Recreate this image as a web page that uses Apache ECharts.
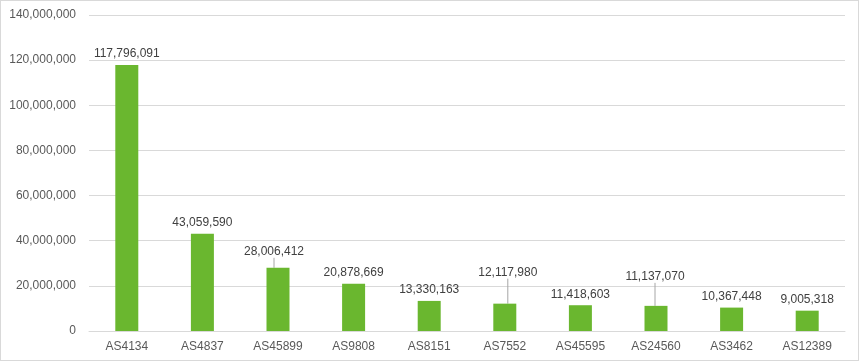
<!DOCTYPE html>
<html><head><meta charset="utf-8">
<script src="https://cdn.jsdelivr.net/npm/echarts@6/dist/echarts.min.js"></script>
<style>
html,body{margin:0;padding:0;background:#fff;}
#c{width:859px;height:361px;box-sizing:border-box;border:1px solid #d9d9d9;}
</style></head>
<body><div id="c"></div>
<script>
const categories = ['AS4134','AS4837','AS45899','AS9808','AS8151','AS7552','AS45595','AS24560','AS3462','AS12389'];
const values = [117796091,43059590,28006412,20878669,13330163,12117980,11418603,11137070,10367448,9005318];
const yTicks = {min:0, max:140000000, interval:20000000};
const moved = {2:{dx:-4,dy:-5},5:{dx:3,dy:-20},7:{dx:-1,dy:-18}};

const chart = echarts.init(document.getElementById('c'), null, {renderer:'canvas'});
const fmt = v => v.toLocaleString('en-US');
const seriesData = values.map((v,i) => moved[i]
  ? {value:v, labelLine:{show:true,lineStyle:{color:'#a6a6a6',width:1}}}
  : {value:v, labelLine:{show:false}});
chart.setOption({
  animation:false,
  textStyle:{fontFamily:'Liberation Sans, Arial, sans-serif'},
  grid:{left:88,right:13,top:14,bottom:29},
  xAxis:{type:'category',data:categories,
    axisLine:{lineStyle:{color:'#d9d9d9'}},axisTick:{show:false},
    axisLabel:{color:'#595959',fontSize:12,margin:10}},
  yAxis:{type:'value',min:yTicks.min,max:yTicks.max,interval:yTicks.interval,
    axisLine:{show:false},axisTick:{show:false},
    splitLine:{lineStyle:{color:'#d9d9d9'}},
    axisLabel:{color:'#595959',fontSize:12,margin:13,formatter:fmt}},
  series:[{type:'bar',data:seriesData,barWidth:23,
    itemStyle:{color:'#6AB72F'},
    label:{show:true,position:'top',distance:5,color:'#404040',fontSize:12,formatter:p=>fmt(p.value)},
    labelLine:{show:false},
    labelLayout:function(p){const m=moved[p.dataIndex];return m?{dx:m.dx,dy:m.dy}:{};}
  }]
});
</script></body></html>
